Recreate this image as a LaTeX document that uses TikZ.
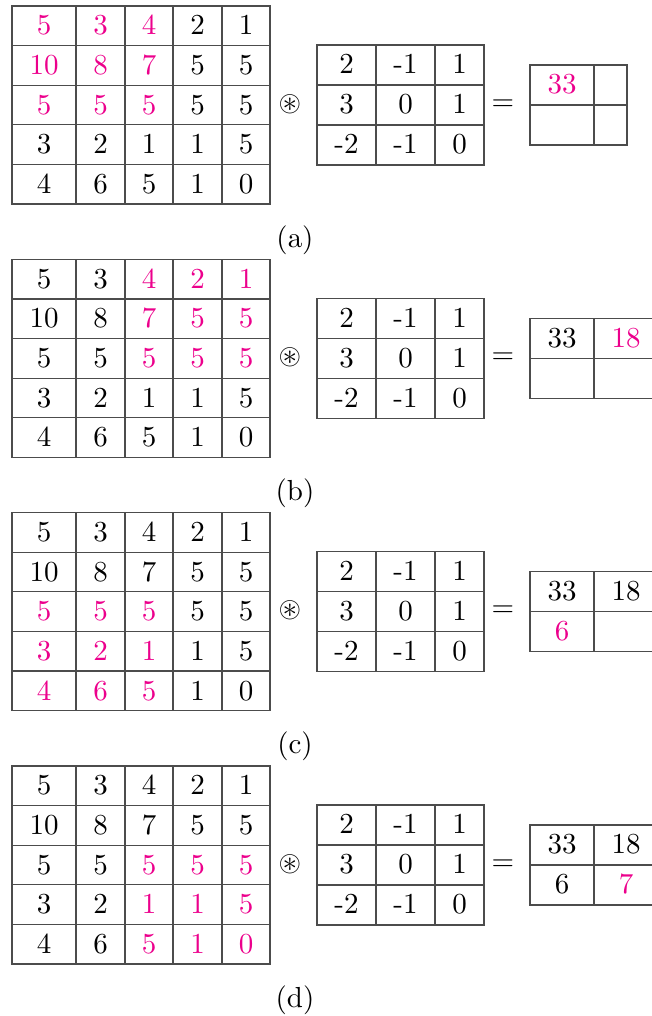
\documentclass[tikz,border=0pt]{standalone}
\usepackage{amssymb}
\definecolor{hl}{RGB}{236,0,140}
\definecolor{rulegray}{gray}{0.3}
\font\cmbig=cmr10 at 29pt
\begin{document}
\begin{tikzpicture}[x=1pt,y=-1pt,
  gridline/.style={draw=rulegray,line width=1.2pt,line cap=rect},
  cell/.style={font=\cmbig,inner sep=0pt,anchor=base},
  lab/.style={font=\fontsize{29}{34}\selectfont\cmbig,inner sep=0pt}]
\useasboundingbox (0,0) rectangle (651,1016);
\foreach \k/\lab/\rs/\cs in {0/a/1/1,1/b/1/3,2/c/3/1,3/d/3/3}{
  \begin{scope}[shift={(0,\k*253.3+6)}]
    % input grid
    \foreach \x in {12,76,125,173,222,270} \draw[gridline] (\x,0) -- (\x,198);
    \foreach \y in {0,39.6,79.2,118.8,158.4,198} \draw[gridline] (12,\y) -- (270,\y);
    \foreach \row [count=\r] in {{5,3,4,2,1},{10,8,7,5,5},{5,5,5,5,5},{3,2,1,1,5},{4,6,5,1,0}}{
      \foreach \v [count=\c] in \row {
        \pgfmathsetmacro\xc{{44,100.5,149,197.5,246}[\c-1]}
        \pgfmathtruncatemacro\hit{and(and(\r>=\rs,\r<=\rs+2),and(\c>=\cs,\c<=\cs+2))}
        \ifnum\hit=1 \def\tc{hl}\else\def\tc{black}\fi
        \node[cell,text=\tc] (in-\lab-\r-\c) at (\xc,{(\r-1)*39.6+29}) {\v};
      }
    }
    % operator
    \node[lab] (op-\lab) at (290,98) {$\circledast$};
    % kernel
    \foreach \x in {317,376,435,484} \draw[gridline] (\x,39) -- (\x,159);
    \foreach \y in {39,79,119,159} \draw[gridline] (317,\y) -- (484,\y);
    \foreach \row [count=\r] in {{2,-1,1},{3,0,1},{-2,-1,0}}{
      \foreach \v [count=\c] in \row {
        \pgfmathsetmacro\xc{{346.5,405.5,459.5}[\c-1]}
        \node[cell] (ker-\lab-\r-\c) at (\xc,{(\r-1)*40+68}) {\v};
      }
    }
    \node[lab] (eq-\lab) at (503,99) {=};
    % output grid
    \ifnum\k=0
      \foreach \x in {530,594,627} \draw[gridline] (\x,59) -- (\x,139);
      \foreach \y in {59,99,139} \draw[gridline] (530,\y) -- (627,\y);
    \else
      \foreach \x in {530,594} \draw[gridline] (\x,59) -- (\x,139);
      \foreach \y in {59,99,139} \draw[gridline] (530,\y) -- (651,\y);
    \fi
    \node[lab] (cap-\lab) at (295,234) {(\lab)};
  \end{scope}
}
% output values
\begin{scope}[shift={(0,6)}]
  \node[cell,text=hl] (out-a-11) at (562,88) {33};
\end{scope}
\begin{scope}[shift={(0,259.3)}]
  \node[cell] (out-b-11) at (562,88) {33};
  \node[cell,text=hl] (out-b-12) at (626,88) {18};
\end{scope}
\begin{scope}[shift={(0,512.6)}]
  \node[cell] (out-c-11) at (562,88) {33};
  \node[cell] (out-c-12) at (626,88) {18};
  \node[cell,text=hl] (out-c-21) at (562,128) {6};
\end{scope}
\begin{scope}[shift={(0,765.9)}]
  \node[cell] (out-d-11) at (562,88) {33};
  \node[cell] (out-d-12) at (626,88) {18};
  \node[cell] (out-d-21) at (562,128) {6};
  \node[cell,text=hl] (out-d-22) at (626,128) {7};
\end{scope}
\end{tikzpicture}
\end{document}
